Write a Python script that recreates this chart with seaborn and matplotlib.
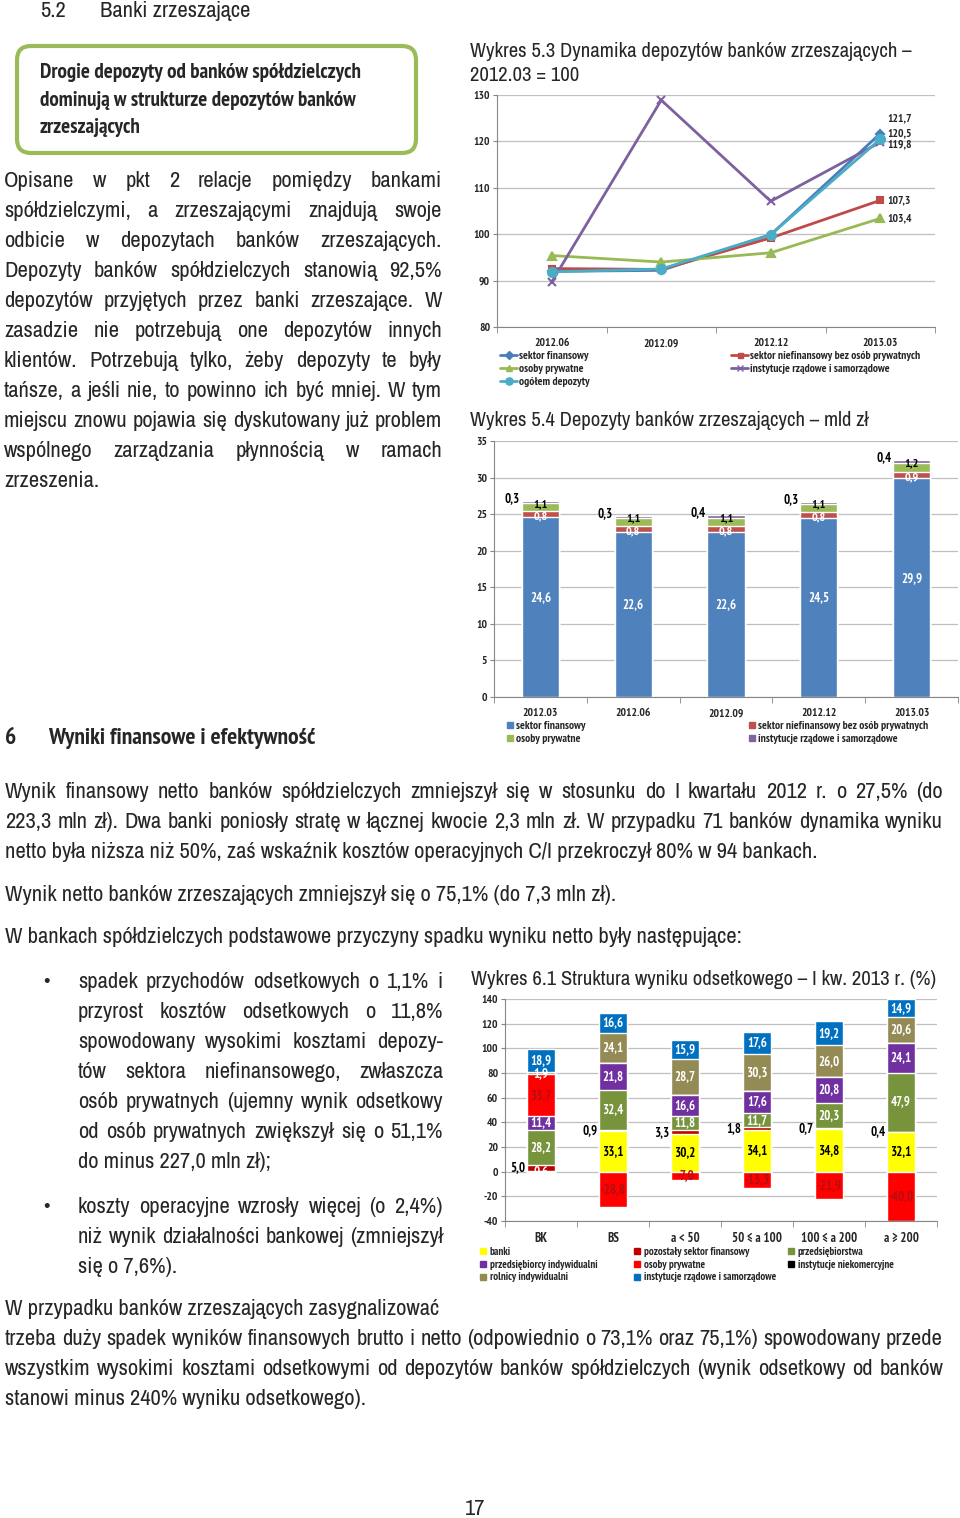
import numpy as np
import matplotlib
matplotlib.use("Agg")
import matplotlib.pyplot as plt
import seaborn as sns
from matplotlib.patches import FancyBboxPatch
from matplotlib.lines import Line2D

# Wykres 5.3 - dynamika depozytów (2012.03 = 100)
dyn_dates = ["2012.06", "2012.09", "2012.12", "2013.03"]
dyn_fin = [92.0, 92.2, 99.9, 121.7]
dyn_niefin = [92.6, 92.4, 99.2, 107.3]
dyn_osoby = [95.4, 94.0, 96.0, 103.4]
dyn_inst = [89.7, 128.9, 107.1, 119.8]
dyn_ogolem = [91.9, 92.5, 99.9, 120.5]

# Wykres 5.4 - depozyty banków zrzeszających, mld zł
dep_dates = ["2012.03", "2012.06", "2012.09", "2012.12", "2013.03"]
dep_fin = [24.6, 22.6, 22.6, 24.5, 29.9]
dep_niefin = [0.8, 0.8, 0.8, 0.8, 0.9]
dep_osoby = [1.1, 1.1, 1.1, 1.1, 1.2]
dep_inst = [0.3, 0.3, 0.4, 0.3, 0.4]

# Wykres 6.1 - struktura wyniku odsetkowego (%)
grp = ["BK", "BS", "a < 50", "50 ≤ a 100", "100 ≤ a 200", "a ≥ 200"]
ods_banki = [0.6, 33.1, 30.2, 34.1, 34.8, 32.1]
ods_pozost = [5.0, 0.9, 3.3, 1.8, 0.7, 0.4]
ods_przeds = [28.2, 32.4, 11.8, 11.7, 20.3, 47.9]
ods_przind = [11.4, 21.8, 16.6, 17.6, 20.8, 24.1]
ods_osoby = [33.7, -28.8, -7.0, -13.3, -21.9, -40.0]
ods_niekom = [0.0, 0.0, 0.6, 0.0, 0.0, 0.0]
ods_rolnicy = [1.9, 24.1, 28.7, 30.3, 26.0, 20.6]
ods_rzad = [18.9, 16.6, 15.9, 17.6, 19.2, 14.9]

FONT_REG = ["Archivo Narrow", "PT Sans Narrow", "DejaVu Sans"]
FONT_BOLD = ["PT Sans Narrow", "DejaVu Sans"]
sns.set_style("white")
plt.rcParams["font.family"] = FONT_BOLD
plt.rcParams["axes.unicode_minus"] = False

W, H = 960, 1518
fig = plt.figure(figsize=(W / 100, H / 100), dpi=100)
renderer = fig.canvas.get_renderer()

# background axes in pixel coordinates for the page text
bg = fig.add_axes([0, 0, 1, 1])
bg.set_xlim(0, W)
bg.set_ylim(H, 0)
bg.axis("off")


def fit(s, target, weight="normal", family=FONT_REG):
    # font size giving the string the width it has on the page
    t = bg.text(0, 0, s, fontsize=10, fontweight=weight, family=family)
    w = t.get_window_extent(renderer).width
    t.remove()
    return 10 * target / w


BODY = fit("netto była niższa niż 50%, zaś wskaźnik kosztów operacyjnych C/I przekroczył 80% w 94 bankach.", 815)
BOX = fit("Drogie depozyty od banków spółdzielczych", 340, "bold", FONT_BOLD) * 0.95
SEC = fit("Wyniki finansowe i efektywność", 283, "bold", FONT_BOLD) * 0.95
CH = fit("sektor niefinansowy bez osób prywatnych", 170, "bold", FONT_BOLD)


def line(x0, y, s, x1=None, size=None, weight="normal"):
    kw = dict(fontsize=size or BODY, fontweight=weight, va="baseline", ha="left", family=FONT_REG)
    if x1 is None:
        bg.text(x0, y, s, **kw)
        return
    words = s.split(" ")
    widths = []
    for w in words:
        t = bg.text(0, 0, w, **kw)
        widths.append(t.get_window_extent(renderer).width)
        t.remove()
    gap = (x1 - x0 - sum(widths)) / (len(words) - 1)
    x = x0
    for w, wd in zip(words, widths):
        bg.text(x, y, w, **kw)
        x += wd + gap


def para(lines, x0, x1, y0, step=30):
    for i, s in enumerate(lines):
        last = i == len(lines) - 1
        line(x0, y0 + i * step, s, None if last else x1)


def title(x, y, s, width):
    bg.text(x, y, s, fontsize=fit(s, width), va="baseline", family=FONT_REG)


# header + green box
line(40, 17, "5.2")
line(100, 17, "Banki zrzeszające")
bg.add_patch(FancyBboxPatch((17, 46), 399, 107, boxstyle="round,pad=0,rounding_size=14",
                            fc="white", ec="#9BBB59", lw=3))
for i, s in enumerate(["Drogie depozyty od banków spółdzielczych",
                       "dominują w strukturze depozytów banków",
                       "zrzeszających"]):
    bg.text(40, 78 + i * 27.5, s, fontsize=BOX, fontweight="bold", va="baseline", family=FONT_BOLD)

para(["Opisane w pkt 2 relacje pomiędzy bankami",
      "spółdzielczymi, a zrzeszającymi znajdują swoje",
      "odbicie w depozytach banków zrzeszających.",
      "Depozyty banków spółdzielczych stanowią 92,5%",
      "depozytów przyjętych przez banki zrzeszające. W",
      "zasadzie nie potrzebują one depozytów innych",
      "klientów. Potrzebują tylko, żeby depozyty te były",
      "tańsze, a jeśli nie, to powinno ich być mniej. W tym",
      "miejscu znowu pojawia się dyskutowany już problem",
      "wspólnego zarządzania płynnością w ramach",
      "zrzeszenia."], 4, 442, 187)

bg.text(5, 744, "6", fontsize=SEC, fontweight="bold", va="baseline", family=FONT_BOLD)
bg.text(48, 744, "Wyniki finansowe i efektywność", fontsize=SEC, fontweight="bold",
        va="baseline", family=FONT_BOLD)

para(["Wynik finansowy netto banków spółdzielczych zmniejszył się w stosunku do I kwartału 2012 r. o 27,5% (do",
      "223,3 mln zł). Dwa banki poniosły stratę w łącznej kwocie 2,3 mln zł. W przypadku 71 banków dynamika wyniku",
      "netto była niższa niż 50%, zaś wskaźnik kosztów operacyjnych C/I przekroczył 80% w 94 bankach."],
     5, 943, 798)
line(5, 901, "Wynik netto banków zrzeszających zmniejszył się o 75,1% (do 7,3 mln zł).")
line(5, 943, "W bankach spółdzielczych podstawowe przyczyny spadku wyniku netto były następujące:")

bg.text(46, 988, "•", fontsize=BODY, va="baseline", ha="center", family=FONT_REG)
para(["spadek przychodów odsetkowych o 1,1% i",
      "przyrost kosztów odsetkowych o 11,8%",
      "spowodowany wysokimi kosztami depozy-",
      "tów sektora niefinansowego, zwłaszcza",
      "osób prywatnych (ujemny wynik odsetkowy",
      "od osób prywatnych zwiększył się o 51,1%",
      "do minus 227,0 mln zł);"], 78, 443, 988)
bg.text(46, 1213, "•", fontsize=BODY, va="baseline", ha="center", family=FONT_REG)
para(["koszty operacyjne wzrosły więcej (o 2,4%)",
      "niż wynik działalności bankowej (zmniejszył",
      "się o 7,6%)."], 78, 443, 1213)

line(5, 1315, "W przypadku banków zrzeszających zasygnalizować")
para(["trzeba duży spadek wyników finansowych brutto i netto (odpowiednio o 73,1% oraz 75,1%) spowodowany przede",
      "wszystkim wysokimi kosztami odsetkowymi od depozytów banków spółdzielczych (wynik odsetkowy od banków",
      "stanowi minus 240% wyniku odsetkowego)."], 5, 943, 1345)
bg.text(475, 1515, "17", fontsize=BODY, va="baseline", ha="center", family=FONT_REG)

# chart titles
title(470, 57, "Wykres 5.3 Dynamika depozytów banków zrzeszających –", 442)
line(470, 81, "2012.03 = 100", size=fit("Wykres 5.3 Dynamika depozytów banków zrzeszających –", 442))
title(470, 426, "Wykres 5.4 Depozyty banków zrzeszających – mld zł", 398)
title(471, 985, "Wykres 6.1 Struktura wyniku odsetkowego – I kw. 2013 r. (%)", 464)


def rect(l, t, r, b):
    return [l / W, 1 - b / H, (r - l) / W, (b - t) / H]


def style_axis(ax, cats, ymin, ymax, step, size=CH):
    n = len(cats)
    ticks = np.arange(ymin, ymax + step / 2, step)
    ax.set_ylim(ymin, ymax)
    ax.set_yticks(ticks, labels=[str(int(t)) for t in ticks], fontweight="bold", fontsize=size)
    ax.set_xlim(-0.5, n - 0.5)
    ax.set_xticks(np.arange(n), labels=cats, fontweight="bold", fontsize=size)
    ax.set_xticks(np.arange(-0.5, n), minor=True)
    ax.yaxis.grid(True, color="#BFBFBF", lw=0.9)
    ax.set_axisbelow(True)
    for s in ["top", "right"]:
        ax.spines[s].set_visible(False)
    for s in ["left", "bottom"]:
        ax.spines[s].set_color("#868686")
    ax.tick_params(axis="y", length=3, color="#868686", pad=2, left=True)
    ax.tick_params(axis="x", which="major", length=0, pad=8)
    ax.tick_params(axis="x", which="minor", length=4, color="#868686", bottom=True)
    ax.set_xlabel("")
    ax.set_ylabel("")


def legend_col(handles, labels, x, y, size=CH, hl=1.5, spacing=0.25):
    fig.legend(handles, labels, loc="upper left", bbox_to_anchor=(x / W, 1 - y / H),
               frameon=False, prop=dict(weight="bold", size=size), handlelength=hl,
               handletextpad=0.2, labelspacing=spacing, borderpad=0, borderaxespad=0)


def fmt(v):
    return f"{v:.1f}".replace(".", ",")


# ---------- Wykres 5.3 ----------
ax1 = fig.add_axes(rect(497, 95, 935, 327))
s53 = [("sektor finansowy", dyn_fin, "#4A7EBB", "D", 4.5),
       ("sektor niefinansowy bez osób prywatnych", dyn_niefin, "#BE4B48", "s", 4.5),
       ("osoby prywatne", dyn_osoby, "#98B954", "^", 6),
       ("instytucje rządowe i samorządowe", dyn_inst, "#7D60A0", "x", 6),
       ("ogółem depozyty", dyn_ogolem, "#4BACC6", "o", 6.5)]
for name, vals, col, mk, ms in s53:
    sns.lineplot(x=dyn_dates, y=vals, color=col, marker=mk, markersize=ms, linewidth=2,
                 markeredgecolor=col, markeredgewidth=1.5, sort=False, legend=False, ax=ax1)
style_axis(ax1, dyn_dates, 80, 130, 10)
lab_off = {"sektor finansowy": 15, "ogółem depozyty": 6, "instytucje rządowe i samorządowe": -2,
           "sektor niefinansowy bez osób prywatnych": 0, "osoby prywatne": 0}
for name, vals, col, mk, ms in s53:
    ax1.annotate(fmt(vals[-1]), (len(dyn_dates) - 1, vals[-1]), xytext=(7, lab_off[name]),
                 textcoords="offset pixels", fontsize=CH, fontweight="bold", va="center", ha="left")

h53 = {name: Line2D([], [], color=col, marker=mk, markersize=ms * 0.8, lw=2, markeredgecolor=col)
       for name, vals, col, mk, ms in s53}
left = ["sektor finansowy", "osoby prywatne", "ogółem depozyty"]
right = ["sektor niefinansowy bez osób prywatnych", "instytucje rządowe i samorządowe"]
legend_col([h53[k] for k in left], left, 500, 351)
legend_col([h53[k] for k in right], right, 731, 351)

# ---------- Wykres 5.4 ----------
ax2 = fig.add_axes(rect(494, 441, 958, 697))
s54 = [("sektor finansowy", dep_fin, "#4F81BD"),
       ("sektor niefinansowy bez osób prywatnych", dep_niefin, "#C0504D"),
       ("osoby prywatne", dep_osoby, "#9BBB59"),
       ("instytucje rządowe i samorządowe", dep_inst, "#8064A2")]
cum54 = np.cumsum([np.array(v) for _, v, _ in s54], axis=0)
for k in range(len(s54) - 1, -1, -1):
    sns.barplot(x=dep_dates, y=cum54[k], color=s54[k][2], width=0.4, saturation=1,
                errorbar=None, ax=ax2)
style_axis(ax2, dep_dates, 0, 35, 5)
LB = CH * 1.12
for i in range(len(dep_dates)):
    ax2.text(i, dep_fin[i] / 2 + 1.3, fmt(dep_fin[i]), color="white", fontsize=LB,
             fontweight="bold", ha="center", va="center")
    ax2.text(i, cum54[1][i] - 0.75, fmt(dep_niefin[i]), color="white", fontsize=LB * 0.95,
             fontweight="bold", ha="center", va="center")
    ax2.text(i, cum54[2][i] - 0.1, fmt(dep_osoby[i]), color="black", fontsize=LB * 0.95,
             fontweight="bold", ha="center", va="center")
    ax2.text(i - 0.22, cum54[3][i] + 0.3, fmt(dep_inst[i]), color="black", fontsize=LB,
             fontweight="bold", ha="right", va="center")

sq = lambda c: Line2D([], [], color=c, marker="s", lw=0, markersize=5)
legend_col([sq(s54[0][2]), sq(s54[2][2])], [s54[0][0], s54[2][0]], 505, 721, hl=0.8)
legend_col([sq(s54[1][2]), sq(s54[3][2])], [s54[1][0], s54[3][0]], 747, 721, hl=0.8)

# ---------- Wykres 6.1 ----------
ax3 = fig.add_axes(rect(505, 999, 937, 1221))
s61 = [("banki", ods_banki, "#FFFF00", "black"),
       ("pozostały sektor finansowy", ods_pozost, "#C00000", "black"),
       ("przedsiębiorstwa", ods_przeds, "#77933C", "white"),
       ("przedsiębiorcy indywidualni", ods_przind, "#7030A0", "white"),
       ("osoby prywatne", ods_osoby, "#FF0000", "#B01010"),
       ("instytucje niekomercyjne", ods_niekom, "#000000", "white"),
       ("rolnicy indywidualni", ods_rolnicy, "#948A54", "white"),
       ("instytucje rządowe i samorządowe", ods_rzad, "#0070C0", "white")]
vals61 = np.array([v for _, v, _, _ in s61])
pos61 = np.clip(vals61, 0, None)
neg61 = np.clip(vals61, None, 0)
top61 = np.cumsum(pos61, axis=0)
for k in range(len(s61) - 1, -1, -1):
    sns.barplot(x=grp, y=top61[k], color=s61[k][2], width=0.4, saturation=1, errorbar=None, ax=ax3)
sns.barplot(x=grp, y=neg61[4], color=s61[4][2], width=0.4, saturation=1, errorbar=None, ax=ax3)
style_axis(ax3, grp, -40, 140, 20)
ax3.tick_params(axis="x", which="major", labelsize=LB)
for k, (name, v, col, tcol) in enumerate(s61):
    if name == "instytucje niekomercyjne":
        continue
    for i in range(len(grp)):
        if v[i] > 0:
            mid = top61[k][i] - v[i] / 2
        else:
            mid = v[i] / 2
        if name == "pozostały sektor finansowy":
            ax3.text(i - 0.22, mid, fmt(v[i]), color="black", fontsize=LB, fontweight="bold",
                     ha="right", va="center")
            continue
        c = "white" if (name == "banki" and v[i] < 2) else tcol
        ax3.text(i, mid, fmt(v[i]), color=c, fontsize=LB, fontweight="bold",
                 ha="center", va="center")

cols = [[0, 3, 6], [1, 4, 7], [2, 5]]
for xpos, idx in zip([479, 633, 787], cols):
    legend_col([sq(s61[j][2]) for j in idx], [s61[j][0] for j in idx], xpos, 1247,
               size=CH * 0.95, hl=0.8)

fig.savefig("out.png", dpi=100)
